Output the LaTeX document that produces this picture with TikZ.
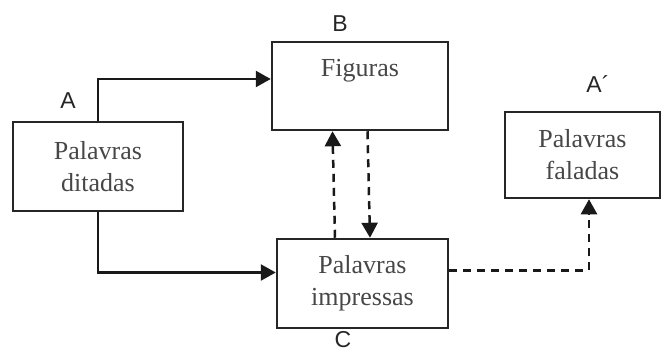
\documentclass[tikz,border=0pt]{standalone}
\usepackage{fontspec}
\setmainfont{Liberation Serif}
\newfontfamily\lblfont{Liberation Sans}
\usetikzlibrary{arrows.meta,positioning}

\begin{document}
\begin{tikzpicture}[x=0.5pt, y=-0.5pt, line width=1.25pt,
	box/.style={draw=black!85, minimum width=#1, inner sep=0pt, align=center,
		text=black!72, font=\fontsize{13}{16}\selectfont},
	lbl/.style={text=black!85, font=\lblfont\fontsize{11.5}{13}\selectfont},
	flow/.style={-{Triangle[length=7.5pt,width=8pt]}, black!90},
	dflow/.style={flow, dash pattern=on 4pt off 3pt}]
		\useasboundingbox (0, 0) rectangle (666, 354);

		\node[box=85pt, minimum height=44.5pt] (dit) at (98, 166.5) {Palavras\\ditadas};
		\node[box=88pt, minimum height=44pt] (fig) at (360, 86) {};
		\node[box=85.5pt, minimum height=44.5pt] (imp) at (362.5, 283.5) {Palavras\\impressas};
		\node[box=77.5pt, minimum height=43pt] (fal) at (582.5, 155) {Palavras\\faladas};
		\node[box=40pt, draw=none] (figtxt) at (360, 71) {Figuras};

		\node[lbl] (la) at (68, 101) {A};
		\node[lbl] (lb) at (340, 24) {B};
		\node[lbl] (lc) at (343, 340) {C};
		\node[lbl] (la2) at (598, 84) {A´};

		\draw[flow] (dit.north) |- ([yshift=3.5pt]fig.west);
		\draw[flow] (dit.south) |- ([yshift=5.5pt]imp.west);
		\draw[dflow] ([xshift=-13.75pt]imp.north) -- ([xshift=-13.75pt]fig.south);
		\draw[dflow] ([xshift=3.75pt]fig.south) -- ([xshift=3.75pt]imp.north);
		\draw[dflow] ([yshift=6.5pt]imp.east) -| ([xshift=3.25pt]fal.south);

	\end{tikzpicture}
\end{document}
